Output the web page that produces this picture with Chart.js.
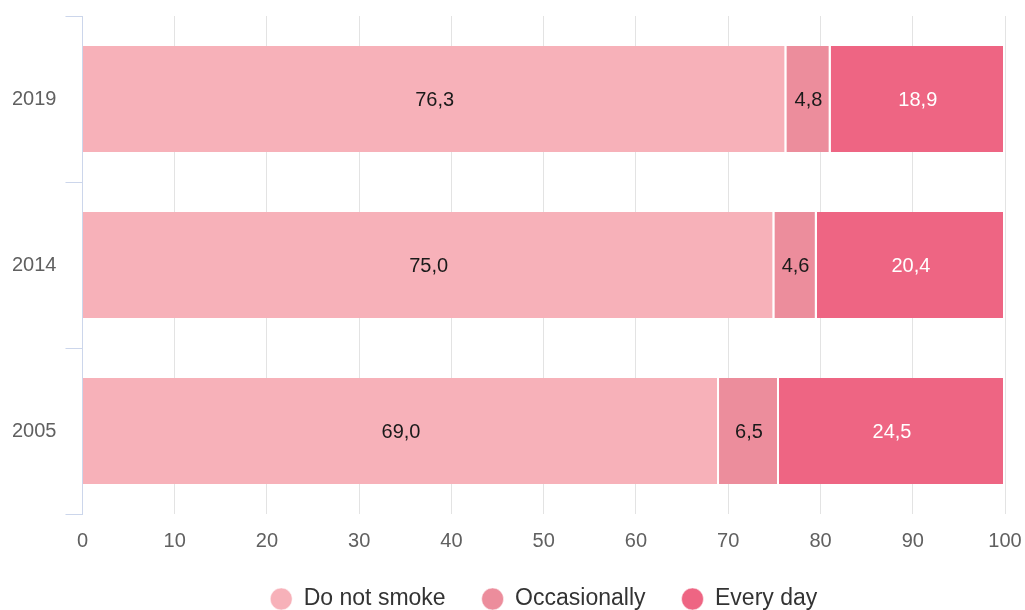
<!DOCTYPE html>
<html>
<head>
<meta charset="utf-8">
<script src="https://cdn.jsdelivr.net/npm/chart.js@4.4.1/dist/chart.umd.min.js"></script>
<style>
  html, body { margin: 0; padding: 0; background: #fff; overflow: hidden; }
  #wrap { width: 1025px; height: 610px; position: relative; }
  canvas { display: block; }
</style>
</head>
<body>
<div id="wrap"><canvas id="myChart"></canvas></div>
<script>
const years = ["2019", "2014", "2005"];
const doNotSmoke = [76.3, 75.0, 69.0];
const occasionally = [4.8, 4.6, 6.5];
const everyDay = [18.9, 20.4, 24.5];
const xTicks = [0, 10, 20, 30, 40, 50, 60, 70, 80, 90, 100];

const FONT = "'Liberation Sans', Arial, sans-serif";

// draws the value in the middle of each segment, with a comma as decimal mark
const barLabels = {
  id: "barLabels",
  afterDatasetsDraw(chart) {
    const ctx = chart.ctx;
    ctx.save();
    ctx.font = "20px " + FONT;
    ctx.textAlign = "center";
    ctx.textBaseline = "middle";
    chart.data.datasets.forEach((ds, i) => {
      const meta = chart.getDatasetMeta(i);
      meta.data.forEach((bar, j) => {
        const v = ds.data[j];
        const c = bar.getCenterPoint();
        ctx.fillStyle = ds.labelColor;
        ctx.fillText(v.toFixed(1).replace(".", ","), c.x, c.y + 1);
      });
    });
    ctx.restore();
  }
};

// center the legend under the plot area instead of the whole canvas
const legendUnderPlot = {
  id: "legendUnderPlot",
  afterLayout(chart) {
    const lg = chart.legend;
    if (!lg) return;
    const shift = (chart.chartArea.left + chart.chartArea.right) / 2 - (lg.left + lg.right) / 2;
    lg.left += shift;
    lg.right += shift;
  }
};

const ctx = document.getElementById("myChart");
new Chart(ctx, {
  type: "bar",
  data: {
    labels: years,
    datasets: [
      { label: "Do not smoke", data: doNotSmoke, backgroundColor: "#f7b1b9", labelColor: "#1a1a1a" },
      { label: "Occasionally", data: occasionally, backgroundColor: "#ec8d9c", labelColor: "#1a1a1a" },
      { label: "Every day", data: everyDay, backgroundColor: "#ee6583", labelColor: "#fff" }
    ]
  },
  options: {
    indexAxis: "y",
    responsive: true,
    maintainAspectRatio: false,
    animation: false,
    layout: { padding: { left: 3, right: 4, top: 16, bottom: -10.5 } },
    datasets: {
      bar: {
        barPercentage: 0.64,
        categoryPercentage: 1,
        borderColor: "#ffffff",
        borderWidth: { right: 2, left: 0, top: 0, bottom: 0 },
        borderSkipped: "start"
      }
    },
    scales: {
      x: {
        stacked: true,
        min: 0,
        max: 100,
        afterBuildTicks: (axis) => { axis.ticks = xTicks.map(v => ({ value: v })); },
        afterFit: (axis) => { axis.height = 37.5; axis.paddingRight = 20; },
        grid: { color: "#e3e3e3", drawTicks: false },
        border: { display: false },
        ticks: { color: "#606060", font: { family: FONT, size: 20, lineHeight: 1 }, padding: 17 }
      },
      y: {
        stacked: true,
        afterFit: (axis) => { axis.paddingTop = 0; axis.paddingBottom = 0; },
        grid: { drawOnChartArea: false, tickLength: 17, color: "#ccd6eb" },
        border: { color: "#ccd6eb" },
        ticks: { color: "#606060", font: { family: FONT, size: 20 }, padding: 9 }
      }
    },
    plugins: {
      legend: {
        position: "bottom",
        labels: {
          usePointStyle: true,
          pointStyle: "circle",
          boxWidth: 22,
          boxHeight: 15.5,
          padding: 36,
          color: "#333",
          font: { family: FONT, size: 23 }
        }
      },
      tooltip: { enabled: false }
    }
  },
  plugins: [barLabels, legendUnderPlot]
});
</script>
</body>
</html>
